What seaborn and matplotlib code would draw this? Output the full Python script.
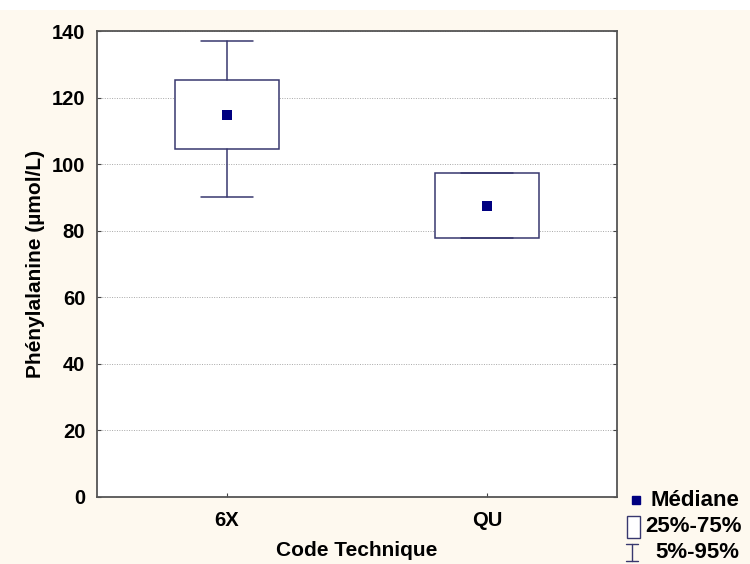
import matplotlib
matplotlib.use("Agg")
import matplotlib.pyplot as plt
import seaborn as sns
import pandas as pd
from matplotlib.patches import Rectangle
from matplotlib.lines import Line2D

# Summary statistics per technique code
codes = ["6X", "QU"]
medians = [114.7, 87.4]
q25 = [104.5, 77.8]
q75 = [125.2, 97.3]
p05 = [90.1, 77.8]
p95 = [137.0, 97.3]

yticks = [0, 20, 40, 60, 80, 100, 120, 140]

sns.set_theme(style="white")
plt.rcParams["font.family"] = ["Liberation Sans", "DejaVu Sans"]
plt.rcParams["font.weight"] = "bold"
plt.rcParams["text.color"] = "black"
plt.rcParams["axes.labelcolor"] = "black"
plt.rcParams["xtick.labelcolor"] = "black"
plt.rcParams["ytick.labelcolor"] = "black"

BG = "#fef9ef"
BOX = "#38386f"
MED = "#000080"
TICK_FS = 14.5
LABEL_FS = 15
KEY_FS = 16

fig = plt.figure(figsize=(7.5, 5.64), dpi=100, facecolor=BG)
# white strip along the top
fig.add_artist(Rectangle((0, 1 - 10 / 564), 1, 10 / 564, transform=fig.transFigure,
                         facecolor="white", edgecolor="none", zorder=0))
ax = fig.add_axes([97 / 750, 1 - 497 / 564, 520 / 750, 466 / 564])
ax.set_facecolor("white")

stats = []
for i, c in enumerate(codes):
    stats.append(dict(label=c, med=medians[i], q1=q25[i], q3=q75[i],
                      whislo=p05[i], whishi=p95[i], fliers=[]))

ax.bxp(stats, positions=range(len(codes)), widths=0.4, showfliers=False,
       patch_artist=True,
       boxprops=dict(facecolor="white", edgecolor=BOX, linewidth=1.1),
       whiskerprops=dict(color=BOX, linewidth=1.1),
       capprops=dict(color=BOX, linewidth=1.1),
       medianprops=dict(linewidth=0, color="none"),
       capwidths=0.2, zorder=3)

df = pd.DataFrame({"code": codes, "median": medians, "x": range(len(codes))})
sns.scatterplot(data=df, x="x", y="median", marker="s", s=45, color=MED,
                edgecolor=MED, linewidth=0, ax=ax, zorder=4, legend=False)

ax.set_xlim(-0.5, 1.5)
ax.set_ylim(0, 140)
ax.set_yticks(yticks)
ax.set_yticklabels([str(v) for v in yticks], fontsize=TICK_FS, fontweight="bold")
ax.set_xticks(range(len(codes)))
ax.set_xticklabels(codes, fontsize=TICK_FS, fontweight="bold")
ax.tick_params(axis="both", direction="in", length=3, width=0.8, color="#444444",
               labelcolor="black", left=True, bottom=True, right=True)
ax.tick_params(axis="y", pad=8.5)
ax.tick_params(axis="x", pad=10)
ax.yaxis.grid(True, linestyle=(0, (1, 1.5)), color="#a8a8a8", linewidth=0.7)
ax.xaxis.grid(False)
ax.set_axisbelow(True)
for s in ax.spines.values():
    s.set_color("#555555")
    s.set_linewidth(1.3)

ax.set_xlabel("Code Technique", fontsize=LABEL_FS, fontweight="bold", labelpad=8, color="black")
ax.set_ylabel("Phénylalanine (µmol/L)", fontsize=LABEL_FS, fontweight="bold", labelpad=5,
              color="black")

# Key in the lower right corner
def fx(px):
    return px / 750

def fy(py):
    return 1 - py / 564

fig.add_artist(Line2D([fx(636)], [fy(500)], marker="s", markersize=5.5, color=MED,
                      transform=fig.transFigure))
fig.text(fx(651), fy(500), "Médiane", fontsize=KEY_FS, fontweight="bold", va="center", ha="left")
fig.add_artist(Rectangle((fx(627), fy(538)), fx(13), 22 / 564, transform=fig.transFigure,
                         facecolor="white", edgecolor=BOX, linewidth=1.0))
fig.text(fx(645), fy(527), "25%-75%", fontsize=KEY_FS, fontweight="bold", va="center", ha="left")
fig.add_artist(Line2D([fx(632), fx(632)], [fy(544), fy(561)], color=BOX, linewidth=1.0,
                      transform=fig.transFigure))
fig.add_artist(Line2D([fx(626), fx(638)], [fy(544), fy(544)], color=BOX, linewidth=1.0,
                      transform=fig.transFigure))
fig.add_artist(Line2D([fx(626), fx(638)], [fy(561), fy(561)], color=BOX, linewidth=1.0,
                      transform=fig.transFigure))
fig.text(fx(655), fy(552), "5%-95%", fontsize=KEY_FS, fontweight="bold", va="center", ha="left")

fig.savefig("out.png", dpi=100, facecolor=BG)
